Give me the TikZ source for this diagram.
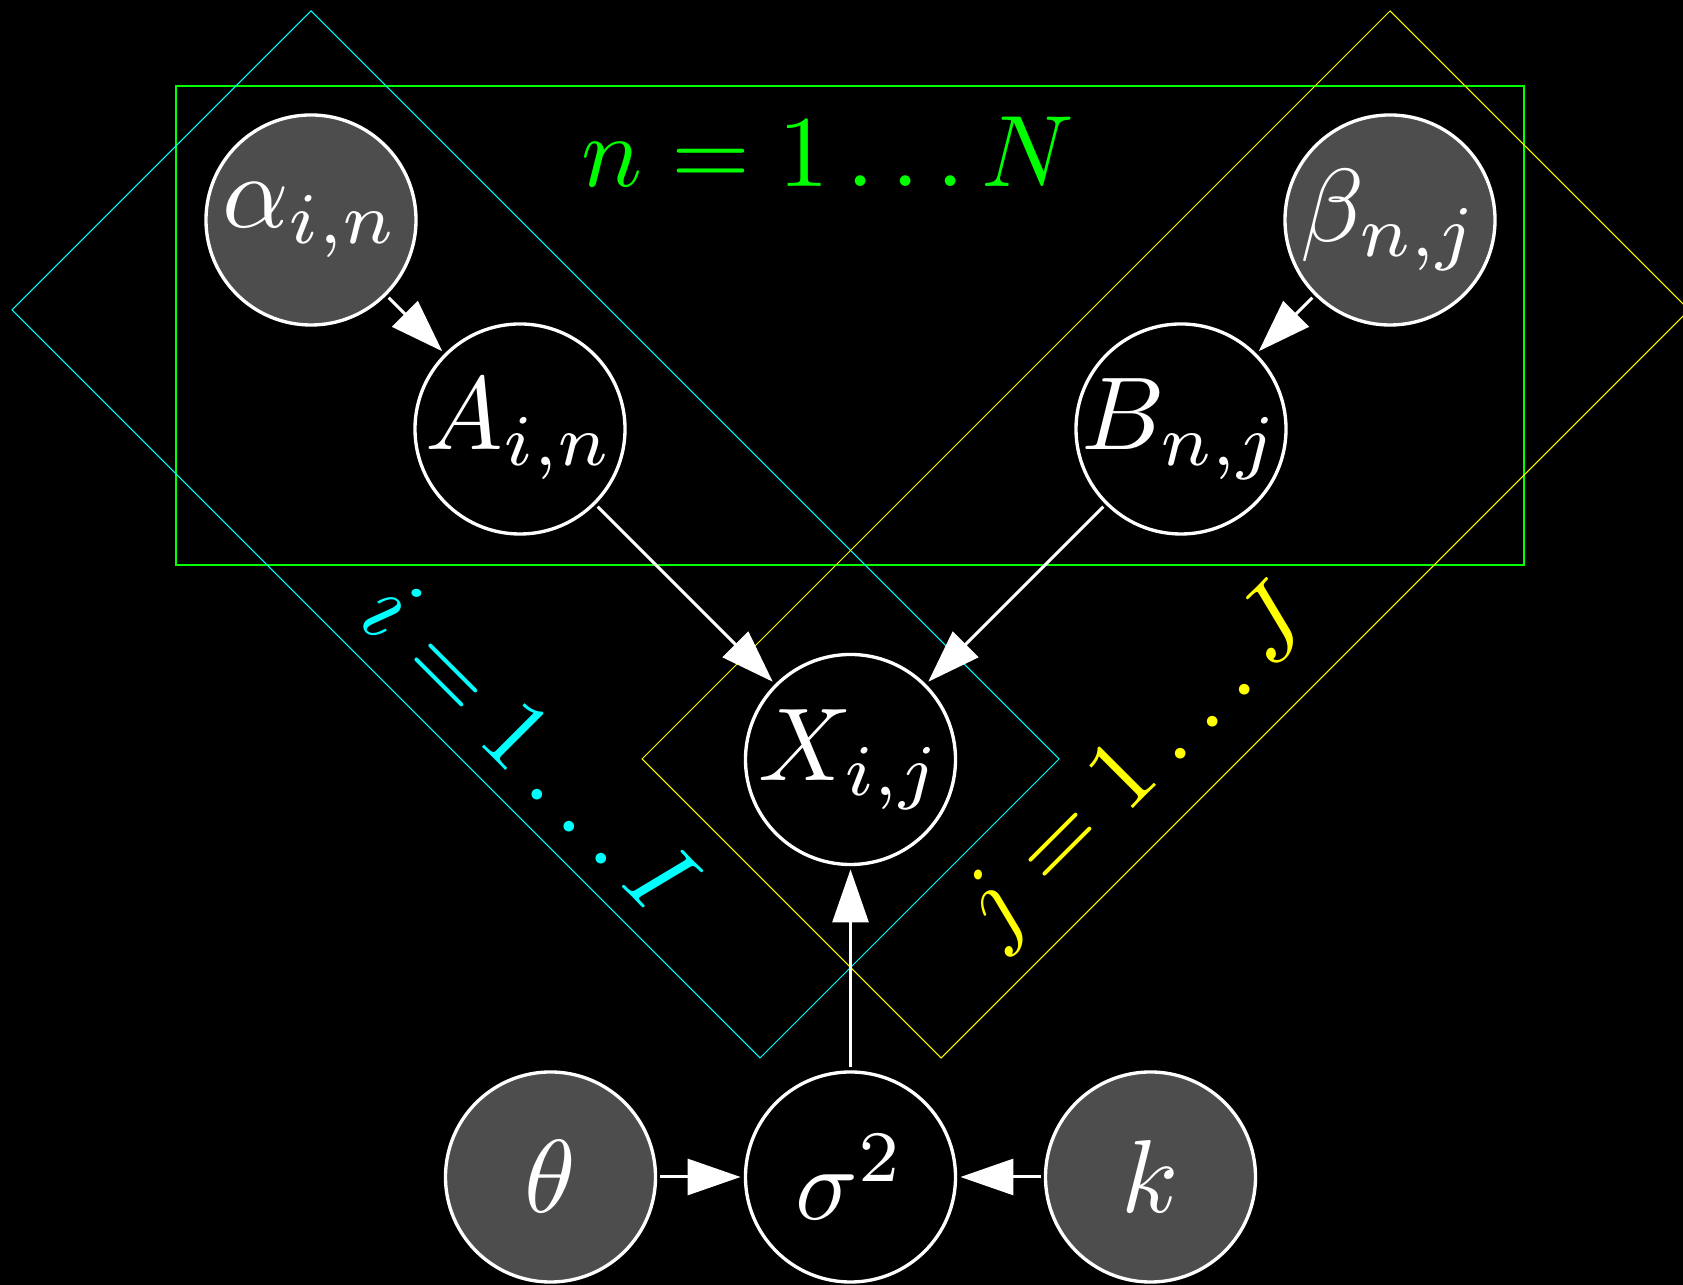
\documentclass[tikz,border=0pt]{standalone}
\usepackage{amsmath}
\usepackage{tikz}
\usetikzlibrary{positioning, arrows.meta}

\definecolor{platecyan}{RGB}{0,255,255}
\definecolor{plateyellow}{RGB}{255,255,0}
\definecolor{plategreen}{RGB}{0,255,0}
\definecolor{obsgray}{RGB}{77,77,77}

% text wider than the circle must not grow it
\newcommand{\pgmtext}[1]{\makebox[0pt]{$#1$}}

\begin{document}
\begin{tikzpicture}[
			latent/.style={circle, draw=white, line width=0.95pt, fill=black, text=white, minimum size=0.712cm, inner sep=0pt, scale=2.95},
			observed/.style={latent, fill=obsgray},
			edge/.style={-{Triangle[length=5.3mm, width=3.6mm]}, white, line width=0.85pt},
			plate label/.style={inner sep=0pt, scale=2.89}
			]
			
			% --- Background ---
			\fill[black] (0, 0) rectangle (16.83, 12.85);
			\useasboundingbox (0, 0) rectangle (16.83, 12.85);
			
			% --- Plates ---
			\draw[plategreen, line width=0.4pt] (1.76, 7.20) rectangle (15.24, 11.99);
			\node[plate label, plategreen, anchor=base] (nlab) at (8.28, 10.98) {$n = 1 \ldots N$};
			
			\draw[platecyan, line width=0.3pt] (3.11, 12.74) -- (0.12, 9.75) -- (7.60, 2.27) -- (10.59, 5.26) -- cycle;
			\node[plate label, platecyan, anchor=base, rotate=-45] (ilab) at (5.06, 5.14) {$i = 1 \ldots I$};
			
			\draw[plateyellow, line width=0.3pt] (13.90, 12.74) -- (16.89, 9.75) -- (9.41, 2.27) -- (6.42, 5.26) -- cycle;
			\node[plate label, plateyellow, anchor=base, rotate=45] (jlab) at (11.57, 5.005) {$j = 1 \ldots J$};
			
			% --- Nodes ---
			\node[observed] (alpha) at (3.11, 10.65) {\pgmtext{\alpha_{i,n}}};
			\node[latent] (A) at (5.20, 8.56) {\pgmtext{A_{i,n}}};
			\node[observed] (beta) at (13.90, 10.65) {\pgmtext{\beta_{n,j}}};
			\node[latent] (B) at (11.81, 8.56) {\pgmtext{B_{n,j}}};
			\node[latent] (X) at (8.505, 5.255) {\pgmtext{X_{i,j}}};
			
			\node[observed] (theta) at (5.505, 1.08) {\pgmtext{\theta}};
			\node[latent] (sigma) at (8.505, 1.08) {\pgmtext{\sigma^2}};
			\node[observed] (k) at (11.505, 1.08) {\pgmtext{k}};
			
			% --- Edges ---
			\draw[edge] (alpha) -- (A);
			\draw[edge] (beta) -- (B);
			\draw[edge] (A) -- (X);
			\draw[edge] (B) -- (X);
			\draw[edge] (sigma) -- (X);
			\draw[edge] (theta) -- (sigma);
			\draw[edge] (k) -- (sigma);
			
		\end{tikzpicture}
\end{document}
